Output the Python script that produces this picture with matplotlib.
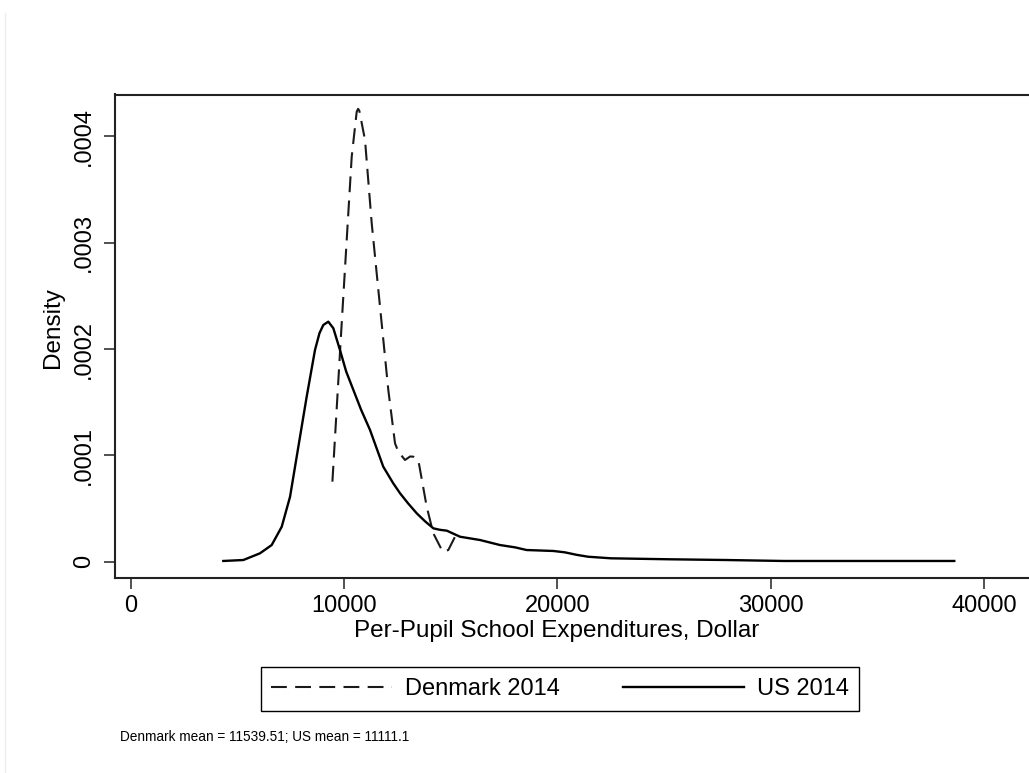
import matplotlib.pyplot as plt
from matplotlib import font_manager
from matplotlib.lines import Line2D

plt.rcParams['font.family'] = ['Liberation Sans', 'DejaVu Sans']

# kernel density estimates (density in 1e-4 units)
us_x = [4340, 5280, 6060, 6610, 7080, 7470, 7860, 8250, 8640, 8850, 9030,
        9264, 9500, 9810, 10100, 10440, 10800, 11220, 11840, 12300, 12630,
        13000, 13410, 13800, 14190, 14500, 14820, 15440, 16380, 17310, 18020,
        18560, 19820, 20360, 20900, 21440, 22520, 25210, 27910, 30610, 33300,
        36000, 38610]
us_y = [0.007, 0.016, 0.079, 0.157, 0.329, 0.611, 1.082, 1.552, 1.992, 2.15,
        2.227, 2.258, 2.196, 1.992, 1.79, 1.615, 1.43, 1.239, 0.894, 0.74,
        0.643, 0.55, 0.455, 0.38, 0.314, 0.30, 0.292, 0.235, 0.204, 0.157,
        0.135, 0.110, 0.101, 0.088, 0.065, 0.047, 0.032, 0.023, 0.016, 0.007,
        0.007, 0.007, 0.007]

dk_x = [9456, 9892, 10361, 10595, 10660, 10717, 10985, 11299, 11688, 12077,
        12391, 12546, 12860, 13100, 13249, 13483, 13877, 14187, 14627, 14890,
        15204]
dk_y = [0.753, 2.243, 3.81, 4.233, 4.26, 4.243, 3.967, 3.183, 2.399, 1.615,
        1.114, 1.035, 0.957, 0.99, 0.988, 0.957, 0.517, 0.267, 0.094, 0.110,
        0.235]

x_ticks = [0, 10000, 20000, 30000, 40000]
y_ticks = [0, 0.0001, 0.0002, 0.0003, 0.0004]
y_labels = ['0', '.0001', '.0002', '.0003', '.0004']

dk_mean = 11539.51
us_mean = 11111.1

fig = plt.figure(figsize=(10.29, 7.73), dpi=100)
fig.patch.set_facecolor('white')

# plot region runs past the right edge, as in the cropped original
ax = fig.add_axes([114.5 / 1029, 1 - 578.3 / 773, (1040 - 114.5) / 1029, (578.3 - 94.5) / 773])

ax.plot(dk_x, [v * 1e-4 for v in dk_y], color='#1a1a1a', lw=1.5,
        dashes=(7.6, 4), label='Denmark 2014')
ax.plot(us_x, [v * 1e-4 for v in us_y], color='black', lw=1.7,
        label='US 2014')

ax.set_xlim(-760, 42630)
ax.set_ylim(-0.0000156, 0.0004395)

ax.set_xticks(x_ticks)
ax.set_xticklabels([str(t) for t in x_ticks])
ax.set_yticks(y_ticks)
ax.set_yticklabels(y_labels, rotation=90, va='center')

for s in ax.spines.values():
    s.set_linewidth(1.5)
    s.set_color('#222222')
ax.tick_params(direction='out', length=8, width=1.1, labelsize=17,
               color='#222222')
ax.tick_params(axis='x', pad=4)
ax.tick_params(axis='y', pad=6)

ax.set_xlabel('Per-Pupil School Expenditures, Dollar', fontsize=17.5)
ax.xaxis.set_label_coords(0.478, -0.109)
ax.xaxis.label.set_verticalalignment('center')
ax.set_ylabel('Density', fontsize=17.5)
ax.yaxis.set_label_coords(-0.0665, 0.518)
ax.yaxis.label.set_verticalalignment('center')

leg = ax.legend(loc='center', bbox_to_anchor=(560 / 1029, 1 - 689 / 773),
                bbox_transform=fig.transFigure, ncol=2, fontsize=17,
                handlelength=5.1, handletextpad=0.55, columnspacing=2.7,
                borderpad=0.45, fancybox=False, framealpha=1)
leg.get_frame().set_edgecolor('black')
leg.get_frame().set_linewidth(1.0)

# the note uses a condensed face in the original
names = {f.name for f in font_manager.fontManager.ttflist}
if 'Liberation Sans Narrow' in names:
    note_font, note_size = ['Liberation Sans Narrow'], 12
else:
    note_font, note_size = ['Liberation Sans'], 9.8
fig.text(120 / 1029, 1 - 737 / 773,
         f'Denmark mean = {dk_mean}; US mean = {us_mean}',
         family=note_font, fontsize=note_size, va='center', ha='left')

# faint outer border of the graph region
fig.add_artist(Line2D([5 / 1029, 5 / 1029], [0, 1 - 13 / 773],
                      transform=fig.transFigure, color='#ececec', lw=1))

fig.savefig('out.png', dpi=100)
